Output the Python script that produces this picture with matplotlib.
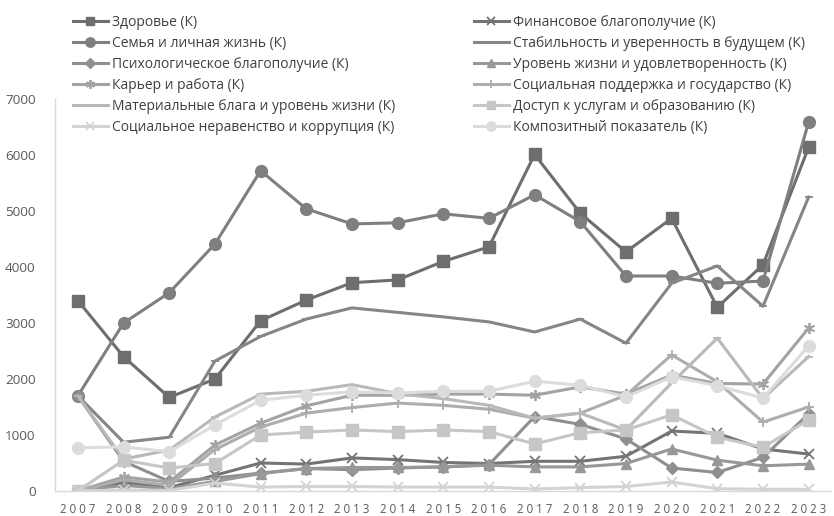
import matplotlib
matplotlib.use("Agg")
import matplotlib.pyplot as plt

plt.rcParams['font.family'] = ['Open Sans', 'DejaVu Sans']

# Years on the category axis
years = list(range(2007, 2024))

# Series values
zdorovie = [3400, 2400, 1670, 2000, 3040, 3410, 3720, 3770, 4100, 4360, 6010, 4960, 4270, 4870, 3280, 4040, 6140]
finansy = [0, 150, 60, 280, 500, 480, 590, 560, 510, 490, 530, 530, 620, 1070, 1030, 750, 660]
semya = [1700, 3000, 3540, 4410, 5720, 5040, 4770, 4790, 4950, 4870, 5290, 4810, 3840, 3840, 3710, 3750, 6590]
stabilnost = [1700, 870, 960, 2320, 2760, 3070, 3270, 3190, 3110, 3020, 2840, 3070, 2640, 3710, 4020, 3300, 5250]
psikhologiya = [1700, 530, 170, 230, 320, 400, 380, 410, 430, 470, 1330, 1190, 930, 410, 330, 600, 1380]
uroven = [0, 100, 40, 170, 310, 400, 420, 420, 430, 460, 430, 430, 490, 750, 550, 450, 480]
karera = [0, 250, 160, 820, 1210, 1520, 1710, 1710, 1730, 1730, 1710, 1860, 1730, 2070, 1920, 1910, 2910]
podderzhka = [0, 200, 100, 740, 1140, 1390, 1490, 1570, 1530, 1460, 1300, 1390, 1710, 2430, 1950, 1230, 1500]
materialnye = [1700, 570, 730, 1320, 1730, 1780, 1900, 1740, 1650, 1530, 1300, 1390, 1090, 1930, 2730, 1650, 2400]
dostup = [0, 550, 410, 490, 1000, 1050, 1090, 1060, 1090, 1060, 840, 1040, 1090, 1360, 960, 780, 1270]
neravenstvo = [0, 20, 10, 140, 70, 80, 80, 70, 70, 70, 35, 60, 80, 160, 40, 30, 30]
kompozit = [770, 790, 700, 1180, 1620, 1710, 1770, 1750, 1780, 1780, 1960, 1890, 1680, 2040, 1880, 1660, 2590]

labels = ["Здоровье (К)", "Финансовое благополучие (К)",
          "Семья и личная жизнь (К)", "Стабильность и уверенность в будущем (К)",
          "Психологическое благополучие (К)", "Уровень жизни и удовлетворенность (К)",
          "Карьер и работа (К)", "Социальная поддержка и государство (К)",
          "Материальные блага и уровень жизни (К)", "Доступ к услугам и образованию (К)",
          "Социальное неравенство и коррупция (К)", "Композитный показатель (К)"]
series = [zdorovie, finansy, semya, stabilnost, psikhologiya, uroven,
          karera, podderzhka, materialnye, dostup, neravenstvo, kompozit]

# monochrome palette, darker -> lighter
colors = ['#6e6e6e', '#747474', '#7f7f7f', '#868686', '#8f8f8f', '#989898',
          '#a3a3a3', '#adadad', '#b9b9b9', '#c6c6c6', '#d3d3d3', '#dcdcdc']
markers = ['s', 'x', 'o', '_', 'D', '^', (6, 2, 0), '+', '_', 's', 'x', 'o']
msizes = [8, 7.5, 8.5, 6, 6, 7.5, 8, 7.5, 6, 8, 7.5, 8.5]

fig = plt.figure(figsize=(8.34, 5.16), dpi=100)
ax = fig.add_axes([0.066, 0.0485, 0.931, 0.7595])

handles = []
for vals, lab, c, m, ms in zip(series, labels, colors, markers, msizes):
    thin = m in ('x', '+', '_') or isinstance(m, tuple)
    ln, = ax.plot(years, vals, color=c, lw=2.2, marker=m, markersize=ms,
                  markeredgewidth=1.3 if thin else 1,
                  markeredgecolor=c, markerfacecolor=c, label=lab)
    handles.append(ln)

ax.set_xlim(2006.5, 2023.5)
ax.set_ylim(0, 7000)
ax.set_yticks(range(0, 7001, 1000))
ax.set_xticks(years)
ax.set_xticklabels([' '.join(str(y)) for y in years], fontsize=8.3, color='#595959')
ax.tick_params(axis='y', labelsize=9.7, labelcolor='#595959', length=0, pad=14)
ax.tick_params(axis='x', length=0, pad=9)
for s in ['top', 'right']:
    ax.spines[s].set_visible(False)
for s in ['left', 'bottom']:
    ax.spines[s].set_color('#d9d9d9')
    ax.spines[s].set_linewidth(1)

# legend in two columns, Excel order goes row by row
left_col = handles[0::2]
right_col = handles[1::2]
leg_kw = dict(loc='upper left', frameon=False, fontsize=10, borderpad=0,
              borderaxespad=0, handlelength=2.5, handletextpad=0.3,
              labelspacing=0.43, labelcolor='#404040', markerscale=0.8)
leg1 = fig.legend(handles=left_col, bbox_to_anchor=(73 / 834, 1 - 15 / 516), **leg_kw)
leg2 = fig.legend(handles=right_col, bbox_to_anchor=(474 / 834, 1 - 15 / 516), **leg_kw)

fig.savefig("out.png", dpi=100)
